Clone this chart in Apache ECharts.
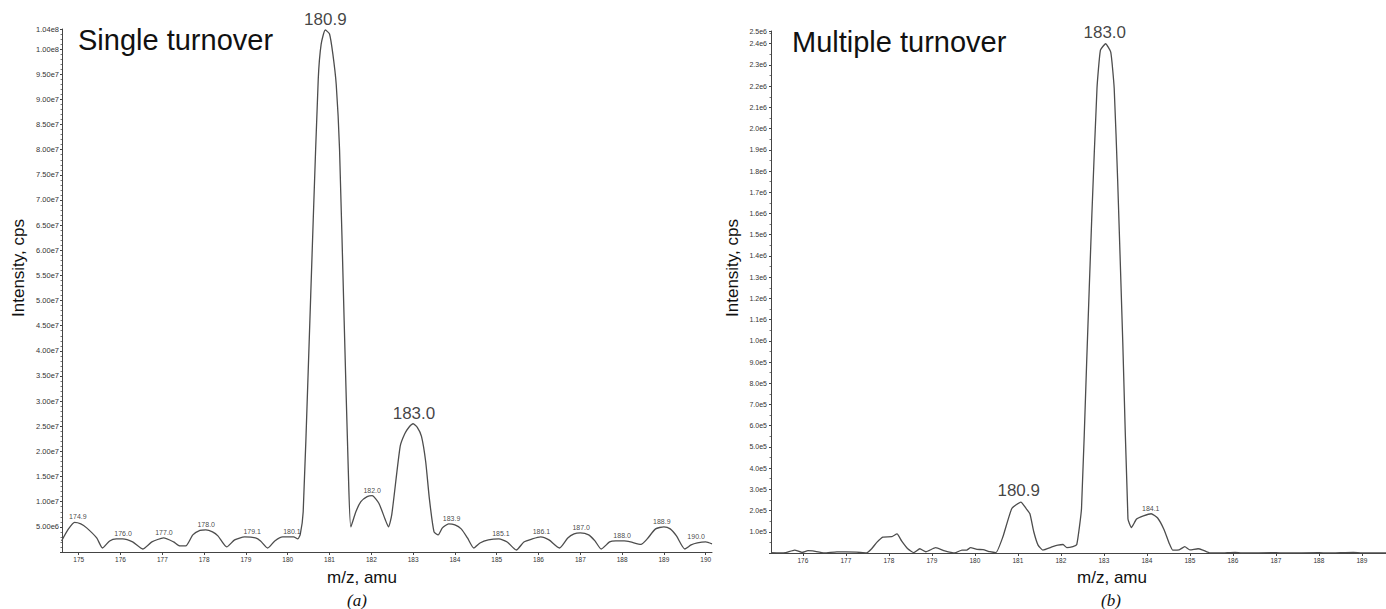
<!DOCTYPE html>
<html>
<head>
<meta charset="utf-8">
<script src="https://cdn.jsdelivr.net/npm/echarts@6/dist/echarts.min.js"></script>
<style>
html,body{margin:0;padding:0;background:#fff;}
#chart{width:1386px;height:609px;}
</style>
</head>
<body>
<div id="chart"></div>
<script>
// ---------- Panel (a): Single turnover ----------
const leftMz = [174.59,174.74,174.9,175.05,175.19,175.43,175.57,175.74,175.9,176.05,176.29,176.53,176.75,177.03,177.27,177.42,177.56,177.73,177.9,178.04,178.2,178.33,178.54,178.73,178.97,179.23,179.35,179.52,179.69,179.88,180.14,180.24,180.3,180.37,180.49,180.61,180.73,180.8,180.9,181.0,181.08,181.16,181.24,181.35,181.45,181.51,181.63,181.75,181.9,182.02,182.18,182.33,182.41,182.49,182.69,182.8,182.9,183.0,183.1,183.2,183.3,183.39,183.5,183.6,183.7,183.85,184.0,184.15,184.3,184.45,184.6,184.8,185.05,185.25,185.47,185.65,185.85,186.05,186.25,186.5,186.7,186.85,187.0,187.2,187.35,187.5,187.7,187.85,188.05,188.2,188.45,188.6,188.8,189.0,189.15,189.3,189.5,189.65,189.8,190.0,190.15];
const leftIntensity = [2.2e6,4.4e6,5.9e6,5.6e6,4.8e6,2.8e6,0.8e6,2.2e6,2.6e6,2.6e6,2.0e6,0.6e6,2.0e6,2.8e6,2.0e6,1.2e6,1.2e6,3.4e6,4.3e6,4.4e6,4.0e6,3.2e6,1.0e6,2.4e6,3.0e6,2.8e6,2.2e6,0.8e6,2.2e6,3.0e6,3.0e6,2.6e6,3.5e6,8.0e6,3.6e7,6.6e7,9.4e7,1.01e8,1.038e8,1.03e8,9.9e7,9.3e7,8.0e7,4.6e7,1.6e7,5.0e6,8.0e6,1.0e7,1.1e7,1.12e7,9.7e6,6.5e6,5.0e6,7.5e6,2.1e7,2.35e7,2.48e7,2.55e7,2.48e7,2.3e7,1.8e7,1.05e7,4.0e6,3.4e6,4.8e6,5.6e6,5.4e6,4.6e6,2.8e6,0.8e6,1.8e6,2.4e6,2.6e6,2.0e6,0.4e6,2.0e6,2.6e6,3.0e6,2.4e6,0.8e6,2.8e6,3.6e6,3.8e6,3.4e6,2.2e6,0.6e6,2.0e6,2.2e6,2.2e6,2.0e6,1.5e6,2.6e6,4.6e6,5.0e6,4.6e6,3.2e6,0.6e6,1.4e6,1.8e6,2.0e6,1.6e6];
const leftTicks = [175,176,177,178,179,180,181,182,183,184,185,186,187,188,189,190];
const leftSmallPeakMz = [174.98,176.06,177.04,178.05,179.15,180.1,182.02,183.92,185.1,186.07,187.02,188.0,188.95,189.77];
const leftSmallPeakInt = [5.9e6,2.6e6,2.8e6,4.4e6,3.0e6,3.0e6,1.12e7,5.6e6,2.6e6,3.0e6,3.8e6,2.2e6,5.0e6,1.9e6];
const leftSmallPeakText = ['174.9','176.0','177.0','178.0','179.1','180.1','182.0','183.9','185.1','186.1','187.0','188.0','188.9','190.0'];
const leftBigPeakMz = [180.9,183.02];
const leftBigPeakInt = [1.038e8,2.55e7];
const leftBigPeakText = ['180.9','183.0'];

// ---------- Panel (b): Multiple turnover ----------
const rightMz = [175.26,175.45,175.6,175.81,175.98,176.12,176.23,176.5,176.79,177.0,177.25,177.48,177.6,177.72,177.86,178.07,178.19,178.3,178.44,178.58,178.72,178.86,179.09,179.3,179.53,179.7,179.81,179.9,180.05,180.19,180.35,180.49,180.65,180.86,181.07,181.19,181.28,181.37,181.47,181.58,181.81,181.93,182.05,182.14,182.28,182.37,182.48,182.6,182.72,182.84,182.92,183.04,183.16,183.24,183.32,183.44,183.56,183.64,183.76,183.92,184.1,184.25,184.4,184.52,184.6,184.75,184.88,185.0,185.19,185.3,185.47,185.7,186.05,186.2,187.0,187.2,188.0,188.2,188.8,189.0,189.56];
const rightIntensity = [2000,1000,2000,14000,3000,11000,10000,0,5000,5000,4000,0,20000,50000,75000,77000,90000,56000,20000,2000,20000,6000,25000,10000,0,14000,14000,25000,17000,16000,6000,2000,75000,210000,240000,210000,185000,100000,37000,14000,30000,37000,40000,25000,30000,40000,210000,900000,1590000,2190000,2370000,2400000,2360000,2190000,1760000,990000,160000,120000,160000,175000,185000,165000,110000,45000,14000,15000,30000,15000,20000,14000,0,0,3000,0,2000,0,2000,0,3000,0,0];
const rightTicks = [176,177,178,179,180,181,182,183,184,185,186,187,188,189];
const rightSmallPeakMz = [184.09];
const rightSmallPeakInt = [185000];
const rightSmallPeakText = ['184.1'];
const rightBigPeakMz = [181.02,183.02];
const rightBigPeakInt = [240000,2400000];
const rightBigPeakText = ['180.9','183.0'];

const SANS = '"Liberation Sans", Arial, Helvetica, sans-serif';
const SERIF = '"Liberation Serif", "Times New Roman", serif';
const LINE = '#4d4d4d';
const AX = '#444';

const zip = (a, b) => a.map((v, i) => [v, b[i]]);
const zip3 = (a, b, c) => a.map((v, i) => [v, b[i], c[i]]);

function xAxisCfg(gridIndex, min, max, ticks) {
  return {
    type: 'value', gridIndex, min, max,
    splitLine: {show: false},
    axisLine: {show: true, onZero: false, lineStyle: {color: AX, width: 1}},
    axisTick: {show: true, length: 3, customValues: ticks, lineStyle: {color: AX}},
    axisLabel: {show: true, customValues: ticks, fontSize: 6.5, color: '#333', fontFamily: SANS, margin: 4,
      formatter: v => String(Math.round(v))}
  };
}
function yAxisCfg(gridIndex, max, interval, digits, fontSize, margin, minorSplit) {
  return {
    type: 'value', gridIndex, min: 0, max, interval,
    splitLine: {show: false},
    axisLine: {show: true, lineStyle: {color: AX, width: 1}},
    axisTick: {show: true, length: 2, lineStyle: {color: AX}},
    minorTick: {show: true, splitNumber: minorSplit, length: 1.5, lineStyle: {color: '#777'}},
    axisLabel: {show: true, fontSize, color: '#333', fontFamily: SANS, margin,
      formatter: v => v === 0 ? '' : v.toExponential(digits).replace('+', '')}
  };
}
function labelSeries(xi, mz, inten, txt, fontSize, dist) {
  return {
    type: 'scatter', xAxisIndex: xi, yAxisIndex: xi,
    data: zip3(mz, inten, txt), symbol: 'circle', symbolSize: 0.1,
    itemStyle: {color: 'rgba(0,0,0,0)'}, silent: true, z: 5,
    label: {show: true, position: 'top', distance: dist, fontSize, fontFamily: SANS, color: '#111',
      formatter: p => p.data[2]}
  };
}

const chart = echarts.init(document.getElementById('chart'), null, {renderer: 'svg'});
chart.setOption({
  animation: false,
  backgroundColor: '#fff',
  grid: [
    {left: 62, top: 29, width: 650, height: 523},
    {left: 771, top: 31, width: 615, height: 522}
  ],
  xAxis: [xAxisCfg(0, 174.6, 190.15, leftTicks), xAxisCfg(1, 175.26, 189.56, rightTicks)],
  yAxis: [yAxisCfg(0, 1.04e8, 5e6, 2, 7.5, 3, 5), yAxisCfg(1, 2.46e6, 1e5, 1, 7, 4, 2)],
  series: [
    {type: 'line', xAxisIndex: 0, yAxisIndex: 0, data: zip(leftMz, leftIntensity), showSymbol: false,
      smooth: 0.2, lineStyle: {color: LINE, width: 1.3}, silent: true},
    {type: 'line', xAxisIndex: 1, yAxisIndex: 1, data: zip(rightMz, rightIntensity), showSymbol: false,
      smooth: 0.15, lineStyle: {color: LINE, width: 1.3}, silent: true},
    labelSeries(0, leftSmallPeakMz, leftSmallPeakInt, leftSmallPeakText, 7, 2),
    labelSeries(0, leftBigPeakMz, leftBigPeakInt, leftBigPeakText, 17, 2),
    labelSeries(1, rightSmallPeakMz, rightSmallPeakInt, rightSmallPeakText, 7, 2),
    labelSeries(1, rightBigPeakMz, rightBigPeakInt, rightBigPeakText, 17, 3)
  ],
  graphic: [
    {type: 'text', x: 78, y: 40, style: {text: 'Single turnover', font: '29px ' + SANS, fill: '#111', align: 'left', verticalAlign: 'middle'}},
    {type: 'text', x: 792, y: 42, style: {text: 'Multiple turnover', font: '29px ' + SANS, fill: '#111', align: 'left', verticalAlign: 'middle'}},
    {type: 'text', x: 18, y: 268, rotation: Math.PI / 2, style: {text: 'Intensity, cps', font: '17px ' + SANS, fill: '#111', align: 'center', verticalAlign: 'middle'}},
    {type: 'text', x: 732, y: 268, rotation: Math.PI / 2, style: {text: 'Intensity, cps', font: '17px ' + SANS, fill: '#111', align: 'center', verticalAlign: 'middle'}},
    {type: 'text', x: 362, y: 577, style: {text: 'm/z, amu', font: '17px ' + SANS, fill: '#111', align: 'center', verticalAlign: 'middle'}},
    {type: 'text', x: 1112, y: 577, style: {text: 'm/z, amu', font: '17px ' + SANS, fill: '#111', align: 'center', verticalAlign: 'middle'}},
    {type: 'text', x: 357, y: 600, style: {text: '(a)', font: 'italic 17px ' + SERIF, fill: '#111', align: 'center', verticalAlign: 'middle'}},
    {type: 'text', x: 1111, y: 600, style: {text: '(b)', font: 'italic 17px ' + SERIF, fill: '#111', align: 'center', verticalAlign: 'middle'}}
  ]
});
</script>
</body>
</html>
